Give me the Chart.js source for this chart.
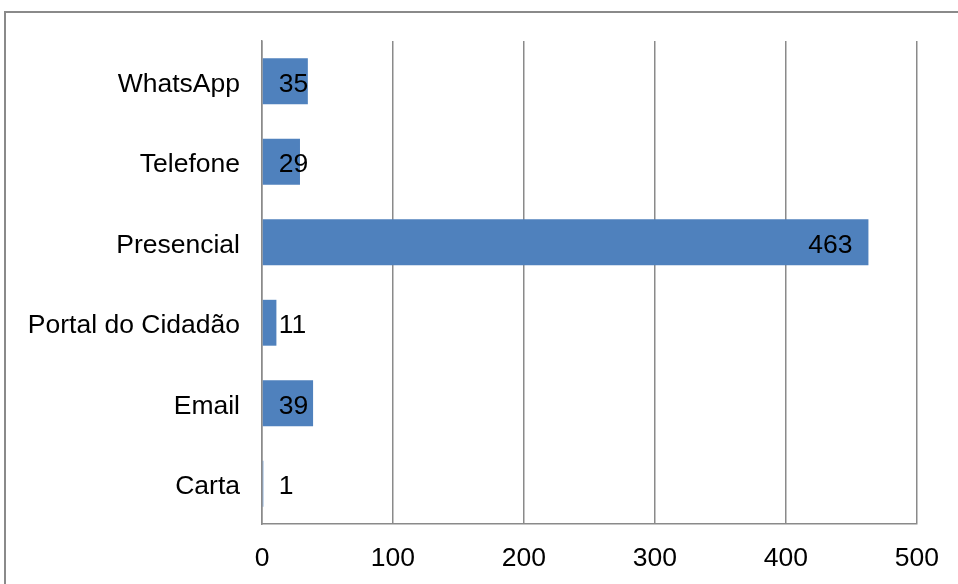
<!DOCTYPE html>
<html>
<head>
<meta charset="utf-8">
<script src="https://cdn.jsdelivr.net/npm/chart.js@4"></script>
<style>
  html, body { margin: 0; padding: 0; background: #fff; overflow: hidden; width: 958px; height: 584px; }
  #frame { position: absolute; left: 4px; top: 11px; width: 1100px; height: 800px; border: 2px solid #8a8a8a; box-sizing: border-box; }
  #c { position: absolute; left: 0; top: 0; }
</style>
</head>
<body>
<div id="frame"></div>
<canvas id="c" width="958" height="584"></canvas>
<script>
const categories = ['WhatsApp', 'Telefone', 'Presencial', 'Portal do Cidadão', 'Email', 'Carta'];
const values = [35, 29, 463, 11, 39, 1];
const xMin = 0, xMax = 500, xStep = 100;

const FONT = '"Liberation Sans", Arial, sans-serif';
const FSIZE = 26.5;

const labelPlugin = {
  id: 'insideEndLabels',
  afterDatasetsDraw(chart) {
    const ctx = chart.ctx;
    const meta = chart.getDatasetMeta(0);
    ctx.save();
    ctx.font = FSIZE + 'px ' + FONT;
    ctx.fillStyle = '#000';
    ctx.textBaseline = 'middle';
    ctx.textAlign = 'left';
    meta.data.forEach((bar, i) => {
      const txt = String(values[i]);
      const w = ctx.measureText(txt).width;
      const left = Math.max(bar.x - 16 - w, bar.base + 16);
      ctx.fillText(txt, left, bar.y + 3);
    });
    ctx.restore();
  }
};

new Chart(document.getElementById('c'), {
  type: 'bar',
  data: {
    labels: categories,
    datasets: [{
      data: values,
      backgroundColor: '#4f81bd',
      borderWidth: 0,
      barPercentage: 0.57,
      categoryPercentage: 1.0
    }]
  },
  options: {
    indexAxis: 'y',
    responsive: false,
    animation: false,
    devicePixelRatio: 1,
    layout: { padding: { left: 0, top: 41, right: 41, bottom: 0 } },
    plugins: { legend: { display: false }, tooltip: { enabled: false } },
    scales: {
      x: {
        min: xMin, max: xMax,
        ticks: { stepSize: xStep, color: '#000', font: { family: FONT, size: FSIZE }, padding: 19, maxRotation: 0 },
        grid: { color: '#8a8a8a', lineWidth: 1.5, drawTicks: false },
        border: { display: true, color: '#8a8a8a', width: 1.5 },
        afterFit(s) { s.height = 60; }
      },
      y: {
        ticks: { color: '#000', font: { family: FONT, size: FSIZE }, padding: 22, labelOffset: 3 },
        grid: { display: false, drawTicks: false },
        border: { display: true, color: '#8a8a8a', width: 1.5 },
        afterFit(s) { s.width = 262; }
      }
    }
  },
  plugins: [labelPlugin]
});
</script>
</body>
</html>
